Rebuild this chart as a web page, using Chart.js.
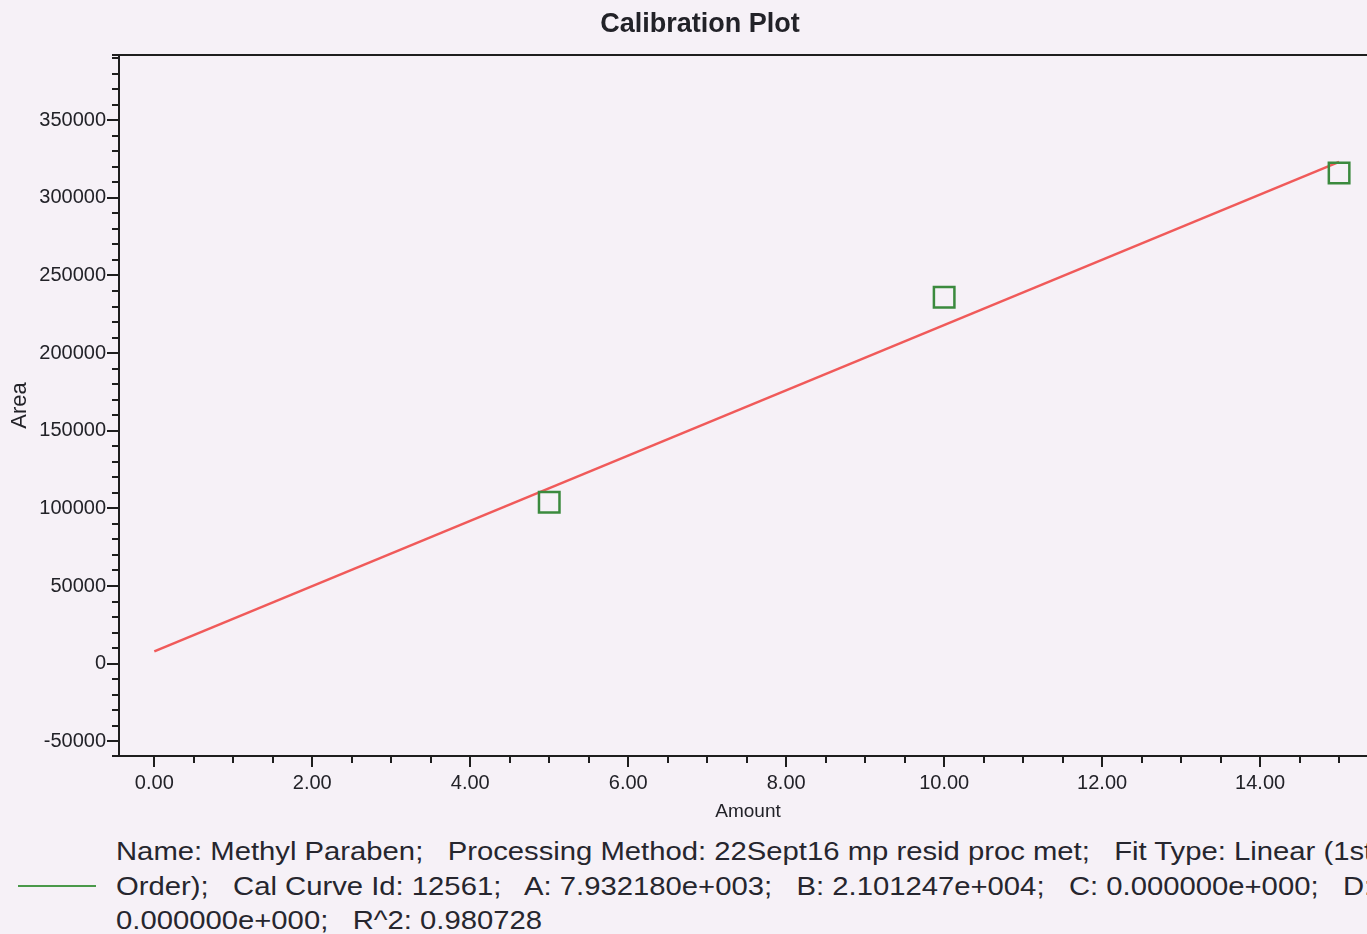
<!DOCTYPE html>
<html>
<head>
<meta charset="utf-8">
<title>Calibration Plot</title>
<script src="https://cdn.jsdelivr.net/npm/chart.js@4.4.1/dist/chart.umd.min.js"></script>
<style>
  html, body { margin: 0; padding: 0; overflow: hidden; background: #f6f1f7; }
  body { width: 1367px; height: 934px; position: relative; font-family: 'Liberation Sans', Arial, sans-serif; }
  #calChart { position: absolute; left: 0; top: 0; }
  #key { position: absolute; left: 18px; top: 885px; width: 78px; height: 2px; background: #4a994a; }
  #info { position: absolute; left: 116px; top: 834px; font-size: 25px; line-height: 34.5px; color: #26262e;
          white-space: pre; transform: scaleX(1.17); transform-origin: 0 0; }
</style>
</head>
<body>
<canvas id="calChart" width="1377" height="830"></canvas>
<div id="key"></div>
<div id="info">Name: Methyl Paraben;   Processing Method: 22Sept16 mp resid proc met;   Fit Type: Linear (1st
Order);   Cal Curve Id: 12561;   A: 7.932180e+003;   B: 2.101247e+004;   C: 0.000000e+000;   D:
0.000000e+000;   R^2: 0.980728</div>
<script>
// calibration standards (amount vs peak area)
var amounts = [5, 10, 15];
var areas = [104000, 236000, 316000];

// fitted line ends, A + B*x  (A = 7.932180e+003, B = 2.101247e+004)
var fitAmounts = [0, 15];
var fitAreas = [7932, 323119];

// labelled ticks
var xLabelTicks = [0, 2, 4, 6, 8, 10, 12, 14];
var yLabelTicks = [-50000, 0, 50000, 100000, 150000, 200000, 250000, 300000, 350000];

// minor tick spacing
var xMinorStep = 0.5;
var yMinorStep = 10000;

var fontFamily = "'Liberation Sans', Arial, sans-serif";
var inkColor = '#222228';

function toPoints(xs, ys) {
    return xs.map(function (x, i) { return { x: x, y: ys[i] }; });
}

// every minor step inside the axis range
function stepTicks(scale, step) {
    var out = [];
    var first = Math.ceil(scale.min / step);
    var last = Math.floor(scale.max / step);
    for (var k = first; k <= last; k++) {
        out.push({ value: Math.round(k * step * 1000) / 1000 });
    }
    return out;
}

// axis frame + major/minor tick marks
var tickMarks = {
    id: 'tickMarks',
    afterDraw: function (chart) {
        var ctx = chart.ctx, a = chart.chartArea;
        var x = chart.scales.x, y = chart.scales.y;
        ctx.save();
        ctx.strokeStyle = '#1e1e1e';
        ctx.lineWidth = 2;
        ctx.beginPath();
        ctx.moveTo(a.left - 7, a.top); ctx.lineTo(a.right, a.top);
        ctx.moveTo(a.left, a.top); ctx.lineTo(a.left, a.bottom);
        ctx.moveTo(a.left - 7, a.bottom); ctx.lineTo(a.right, a.bottom);
        y.ticks.forEach(function (t) {
            var py = Math.round(y.getPixelForValue(t.value));
            var len = yLabelTicks.indexOf(t.value) >= 0 ? 12 : 7;
            ctx.moveTo(a.left - len, py); ctx.lineTo(a.left, py);
        });
        x.ticks.forEach(function (t) {
            var px = Math.round(x.getPixelForValue(t.value));
            var len = xLabelTicks.indexOf(t.value) >= 0 ? 11 : 7;
            ctx.moveTo(px, a.bottom); ctx.lineTo(px, a.bottom + len);
        });
        ctx.stroke();
        ctx.restore();
    }
};

var ctx = document.getElementById('calChart').getContext('2d');
new Chart(ctx, {
    type: 'scatter',
    data: {
        datasets: [{
            label: 'Standards',
            data: toPoints(amounts, areas),
            pointStyle: 'rect',
            pointRadius: 14.5,
            pointHoverRadius: 14.5,
            pointBorderWidth: 2.5,
            borderColor: '#3b8a3e',
            backgroundColor: 'rgba(0,0,0,0)',
            showLine: false
        }, {
            label: 'Fit',
            data: toPoints(fitAmounts, fitAreas),
            showLine: true,
            borderColor: '#f05a5a',
            borderWidth: 2.5,
            pointRadius: 0,
            pointHoverRadius: 0
        }]
    },
    options: {
        responsive: false,
        animation: false,
        events: [],
        layout: { padding: { left: 23, right: 0, top: 0, bottom: 0 }, autoPadding: false },
        plugins: {
            legend: { display: false },
            tooltip: { enabled: false },
            title: {
                display: true,
                text: 'Calibration Plot',
                color: '#222228',
                font: { family: fontFamily, size: 27, weight: 'bold' },
                padding: { top: 8, bottom: 14.6 }
            }
        },
        scales: {
            x: {
                type: 'linear',
                min: -0.447,
                max: 15.48,
                grid: { display: false, drawTicks: false },
                border: { display: false },
                afterBuildTicks: function (scale) { scale.ticks = stepTicks(scale, xMinorStep); },
                ticks: {
                    autoSkip: false,
                    maxRotation: 0,
                    padding: 15,
                    color: inkColor,
                    font: { family: fontFamily, size: 20 },
                    callback: function (v) {
                        return xLabelTicks.indexOf(v) >= 0 ? v.toFixed(2) : '';
                    }
                },
                title: {
                    display: true,
                    text: 'Amount',
                    color: inkColor,
                    font: { family: fontFamily, size: 19 },
                    padding: { top: 0, bottom: 6.6 }
                },
                afterFit: function (scale) { scale.height = 74; }
            },
            y: {
                type: 'linear',
                min: -59500,
                max: 392000,
                grid: { display: false, drawTicks: false },
                border: { display: false },
                afterBuildTicks: function (scale) { scale.ticks = stepTicks(scale, yMinorStep); },
                ticks: {
                    autoSkip: false,
                    padding: 13,
                    color: inkColor,
                    font: { family: fontFamily, size: 20 },
                    callback: function (v) {
                        return yLabelTicks.indexOf(v) >= 0 ? String(v) : '';
                    }
                },
                title: {
                    display: true,
                    text: 'Area',
                    color: inkColor,
                    font: { family: fontFamily, size: 22 },
                    // pulled back into the layout padding so it sits near the page edge
                    padding: { top: -16, bottom: 0 }
                },
                afterFit: function (scale) { scale.width = 96; }
            }
        }
    },
    plugins: [tickMarks]
});
</script>
</body>
</html>
